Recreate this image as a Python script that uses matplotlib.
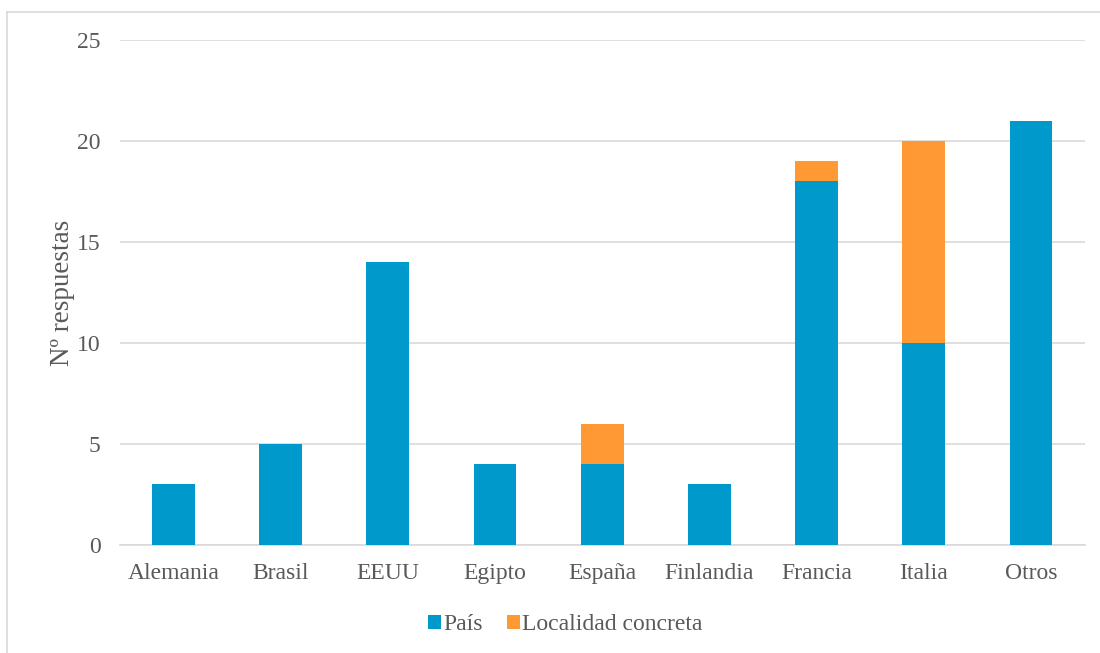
import matplotlib.pyplot as plt
from matplotlib.lines import Line2D

plt.rcParams['font.family'] = ['Liberation Serif', 'DejaVu Serif']

paises = ['Alemania', 'Brasil', 'EEUU', 'Egipto', 'España', 'Finlandia', 'Francia', 'Italia', 'Otros']
pais = [3, 5, 14, 4, 4, 3, 18, 10, 21]
localidad = [0, 0, 0, 0, 2, 0, 1, 10, 0]

azul = '#0099CC'
naranja = '#FF9933'
gris = '#595959'

fig = plt.figure(figsize=(11, 6.53), dpi=100)
ax = fig.add_axes([0.109, 0.1654, 0.877, 0.7733])

x = range(len(paises))
ax.bar(x, pais, width=0.4, color=azul, label='País', zorder=3)
ax.bar(x, localidad, width=0.4, bottom=pais, color=naranja, label='Localidad concreta', zorder=3)

ax.set_xlim(-0.5, len(paises) - 0.5)
ax.set_ylim(0, 25)
ax.set_yticks([0, 5, 10, 15, 20, 25])
ax.set_xticks(list(x))
ax.set_xticklabels(paises)
ax.tick_params(axis='both', length=0, labelsize=17, labelcolor=gris)
ax.tick_params(axis='y', pad=14)
ax.tick_params(axis='x', pad=13)
ax.yaxis.grid(True, color='#D9D9D9', linewidth=1.2, zorder=0)
for s in ['top', 'right', 'left']:
    ax.spines[s].set_visible(False)
ax.spines['bottom'].set_color('#D9D9D9')
ax.spines['bottom'].set_linewidth(1.2)

ax.set_ylabel('Nº respuestas', fontsize=19.5, color=gris, labelpad=1)

fig.legend(loc='center', bbox_to_anchor=(0.514, 0.043), ncol=2, frameon=False,
           fontsize=17, labelcolor=gris, handlelength=0.55, handleheight=0.55,
           handletextpad=0.1, columnspacing=1.0)

# marco del gráfico (solo visible arriba e izquierda)
fig.add_artist(Line2D([7 / 1100, 7 / 1100], [0, 1 - 12 / 653], color='#D9D9D9', linewidth=1.2))
fig.add_artist(Line2D([7 / 1100, 1], [1 - 12 / 653, 1 - 12 / 653], color='#D9D9D9', linewidth=1.2))

fig.savefig('out.png', dpi=100)
